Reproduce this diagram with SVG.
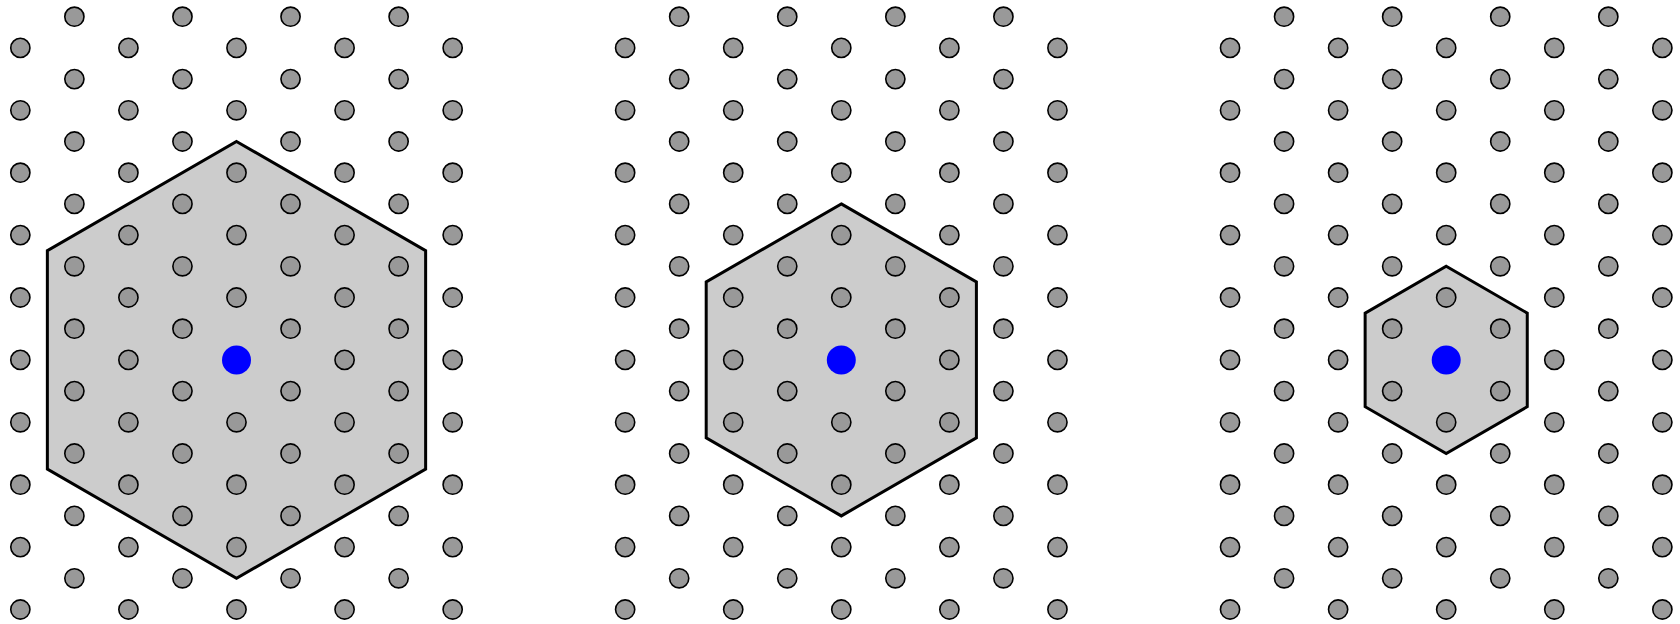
<svg xmlns="http://www.w3.org/2000/svg" xmlns:xlink="http://www.w3.org/1999/xlink" width="1680" height="624" viewBox="0 0 1680 624">
<style>
.dot{fill:#999999;stroke:#000000;stroke-width:1.6}
.hex{fill:#cccccc;stroke:#000000;stroke-width:3;stroke-linejoin:miter}
.ctr{fill:#0000ff}
</style>
<defs>
<g id="col">
<circle class="dot" cx="0" cy="47.9" r="9.6"/>
<circle class="dot" cx="0" cy="110.3" r="9.6"/>
<circle class="dot" cx="0" cy="172.7" r="9.6"/>
<circle class="dot" cx="0" cy="235.1" r="9.6"/>
<circle class="dot" cx="0" cy="297.5" r="9.6"/>
<circle class="dot" cx="0" cy="359.9" r="9.6"/>
<circle class="dot" cx="0" cy="422.3" r="9.6"/>
<circle class="dot" cx="0" cy="484.7" r="9.6"/>
<circle class="dot" cx="0" cy="547.1" r="9.6"/>
<circle class="dot" cx="0" cy="609.5" r="9.6"/>
</g>
<g id="lattice">
<use xlink:href="#col" href="#col" x="-216.16" y="0"/>
<use xlink:href="#col" href="#col" x="-162.12" y="-31.2"/>
<use xlink:href="#col" href="#col" x="-108.08" y="0"/>
<use xlink:href="#col" href="#col" x="-54.04" y="-31.2"/>
<use xlink:href="#col" href="#col" x="0" y="0"/>
<use xlink:href="#col" href="#col" x="54.04" y="-31.2"/>
<use xlink:href="#col" href="#col" x="108.08" y="0"/>
<use xlink:href="#col" href="#col" x="162.12" y="-31.2"/>
<use xlink:href="#col" href="#col" x="216.16" y="0"/>
</g>
</defs>
<g id="panel1">
<polygon class="hex" transform="translate(236.5,359.9)" points="0,-218.4 189.14,-109.2 189.14,109.2 0,218.4 -189.14,109.2 -189.14,-109.2"/>
<use xlink:href="#lattice" href="#lattice" x="236.5" y="0"/>
<circle class="ctr" cx="236.5" cy="359.9" r="14.5"/>
</g>
<g id="panel2">
<polygon class="hex" transform="translate(841.3,359.9)" points="0,-156 135.1,-78 135.1,78 0,156 -135.1,78 -135.1,-78"/>
<use xlink:href="#lattice" href="#lattice" x="841.3" y="0"/>
<circle class="ctr" cx="841.3" cy="359.9" r="14.5"/>
</g>
<g id="panel3">
<polygon class="hex" transform="translate(1446.2,359.9)" points="0,-93.6 81.06,-46.8 81.06,46.8 0,93.6 -81.06,46.8 -81.06,-46.8"/>
<use xlink:href="#lattice" href="#lattice" x="1446.2" y="0"/>
<circle class="ctr" cx="1446.2" cy="359.9" r="14.5"/>
</g>
</svg>
